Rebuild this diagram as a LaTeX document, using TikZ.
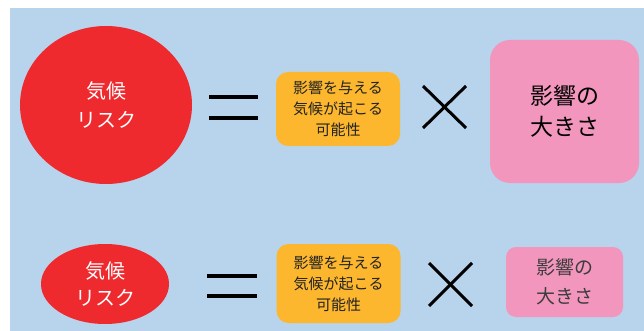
\documentclass[tikz,border=0pt]{standalone}
\usepackage{fontspec}
\newfontfamily\jp{Noto Sans CJK JP}
\usetikzlibrary{shapes.geometric}
\definecolor{bgblue}{HTML}{B8D3EC}
\definecolor{riskred}{HTML}{EE2A2F}
\definecolor{probor}{HTML}{FCB72E}
\definecolor{imppink}{HTML}{F296BD}
\definecolor{txtdark}{HTML}{222222}
\definecolor{txtgray}{HTML}{3C3C3C}
\tikzset{
  risk/.style={ellipse, fill=riskred, text=white, align=center, inner sep=0pt},
  prob/.style={fill=probor, rounded corners=12pt, text=txtdark, align=center, inner sep=0pt,
    minimum width=124pt, font=\jp\fontsize{15}{21}\selectfont},
  impact/.style={fill=imppink, align=center, inner sep=0pt},
  op/.style={line width=3.5pt, black},
}
\begin{document}
\begin{tikzpicture}[x=1pt,y=-1pt]
\useasboundingbox (0,0) rectangle (644,331);
\fill[white] (0,0) rectangle (644,331);
\fill[bgblue] (10,8) rectangle (644,331);
% top row
\node[risk, minimum width=172pt, minimum height=158pt, font=\jp\fontsize{20}{29}\selectfont] (r1) at (106,105) {気候\\リスク};
\draw[op] (209,97) -- (258,97);
\draw[op] (209,118) -- (258,118);
\node[prob, minimum height=74pt] (p1) at (338,109) {影響を与える\\気候が起こる\\可能性};
\draw[op, line width=3pt] (423,86) -- (466,128);
\draw[op, line width=3pt] (423,128) -- (466,86);
\node[impact, rounded corners=20pt, minimum width=149pt, minimum height=143pt, text=black, font=\jp\fontsize{23}{31}\selectfont] (i1) at (564.5,111.5) {影響の\\大きさ};
% bottom row
\node[risk, minimum width=128pt, minimum height=80pt, font=\jp\fontsize{20}{27}\selectfont] (r2) at (105,284) {気候\\リスク};
\draw[op] (207,276) -- (257,276);
\draw[op] (207,296) -- (257,296);
\node[prob, minimum height=79pt] (p2) at (338.5,283.5) {影響を与える\\気候が起こる\\可能性};
\draw[op, line width=3pt] (429,263) -- (472,306);
\draw[op, line width=3pt] (429,306) -- (472,263);
\node[impact, rounded corners=10pt, minimum width=117pt, minimum height=70pt, text=txtgray, font=\jp\fontsize{19}{29}\selectfont] (i2) at (564.5,282) {影響の\\大きさ};
\end{tikzpicture}
\end{document}
